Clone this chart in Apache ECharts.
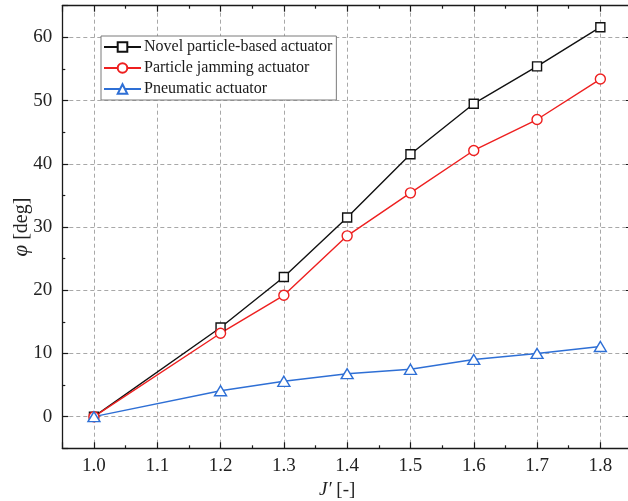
<!DOCTYPE html>
<html>
<head>
<meta charset="utf-8">
<script src="https://cdn.jsdelivr.net/npm/echarts@6/dist/echarts.min.js"></script>
<style>
  html, body { margin: 0; padding: 0; background: #fff; }
  #chart { width: 628px; height: 501px; }
</style>
</head>
<body>
<div id="chart"></div>
<script>
// Stiffness ratio J' and the bending angle of each actuator
const jRatio = [1.0, 1.2, 1.3, 1.4, 1.5, 1.6, 1.7, 1.8];
const novelActuator = [0, 14.1, 22.1, 31.5, 41.5, 49.5, 55.4, 61.6];
const jammingActuator = [0, 13.2, 19.2, 28.6, 35.4, 42.1, 47.0, 53.4];
const pneumaticActuator = [0, 4.1, 5.6, 6.8, 7.5, 9.05, 10.0, 11.1];

const seriesNames = ['Novel particle-based actuator', 'Particle jamming actuator', 'Pneumatic actuator'];
const xRange = [0.95, 1.85];
const yRange = [-5, 65];

const FONT = '"Liberation Serif", "Times New Roman", serif';
const AXIS_COLOR = '#1a1a1a';

const pairs = vals => jRatio.map((x, i) => [x, vals[i]]);

function frameAxis(extra) {
  return Object.assign({
    type: 'value',
    axisLine: { show: true, onZero: false, lineStyle: { color: AXIS_COLOR, width: 1.3 } },
    axisTick: { show: true, inside: true, length: 6, lineStyle: { color: AXIS_COLOR, width: 1.2 } },
    minorTick: { show: true, splitNumber: 2, length: 3, lineStyle: { color: AXIS_COLOR, width: 1.2 } },
    axisLabel: { show: false },
    splitLine: { show: false }
  }, extra);
}

const gridLine = { show: true, showMinLine: false, showMaxLine: false,
  lineStyle: { color: '#a8a8a8', type: [4, 3], width: 1 } };

const chart = echarts.init(document.getElementById('chart'), null, { renderer: 'canvas' });

function lineSeries(name, vals, color, symbol, size) {
  return {
    name: name,
    type: 'line',
    data: pairs(vals),
    symbol: symbol,
    symbolSize: size,
    showAllSymbol: true,
    lineStyle: { color: color, width: 1.4 },
    itemStyle: { color: '#ffffff', borderColor: color, borderWidth: 1.4 },
    emphasis: { disabled: true },
    animation: false
  };
}

chart.setOption({
  animation: false,
  backgroundColor: '#ffffff',
  textStyle: { fontFamily: FONT },
  grid: { left: 62.3, top: 5.7, right: -4, bottom: 52.7, containLabel: false, outerBoundsMode: 'none' },
  legend: {
    orient: 'vertical',
    left: 101,
    top: 36,
    itemWidth: 37,
    itemHeight: 12,
    itemGap: 5,
    padding: [3, 4, 3, 2],
    borderColor: '#7a7a7a',
    borderWidth: 1,
    backgroundColor: '#ffffff',
    textStyle: { fontFamily: FONT, fontSize: 16, color: '#1a1a1a', padding: [0, 0, 0, -2] },
    data: seriesNames
  },
  xAxis: [
    frameAxis({
      position: 'bottom',
      min: xRange[0], max: xRange[1], splitNumber: 9,
      axisLabel: {
        show: true, showMinLabel: false, showMaxLabel: false, margin: 8,
        fontFamily: FONT, fontSize: 19, color: '#222',
        formatter: v => v.toFixed(1)
      },
      splitLine: gridLine,
      name: '{i|J′} [-]',
      nameLocation: 'middle',
      nameGap: 28,
      nameTextStyle: {
        fontFamily: FONT, fontSize: 19, color: '#222', padding: [0, 20, 0, 0],
        rich: { i: { fontFamily: FONT, fontSize: 19, fontStyle: 'italic', color: '#222' } }
      }
    }),
    frameAxis({ position: 'top', min: xRange[0], max: xRange[1], splitNumber: 9 })
  ],
  yAxis: [
    frameAxis({
      position: 'left',
      min: yRange[0], max: yRange[1], splitNumber: 7,
      axisLabel: {
        show: true, showMinLabel: false, showMaxLabel: false, margin: 10,
        fontFamily: FONT, fontSize: 19, color: '#222'
      },
      splitLine: gridLine,
      name: '{i|φ} [deg]',
      nameLocation: 'middle',
      nameMoveOverlap: false,
      nameGap: 30,
      nameTextStyle: {
        fontFamily: FONT, fontSize: 20, color: '#222',
        rich: { i: { fontFamily: FONT, fontSize: 21, fontStyle: 'italic', color: '#222' } }
      }
    }),
    frameAxis({ position: 'right', min: yRange[0], max: yRange[1], splitNumber: 7 })
  ],
  series: [
    lineSeries(seriesNames[0], novelActuator, '#111111', 'rect', 9),
    lineSeries(seriesNames[1], jammingActuator, '#ee1f1f', 'circle', 10),
    lineSeries(seriesNames[2], pneumaticActuator, '#2e6fd5', 'triangle', [12, 10])
  ]
});
</script>
</body>
</html>
